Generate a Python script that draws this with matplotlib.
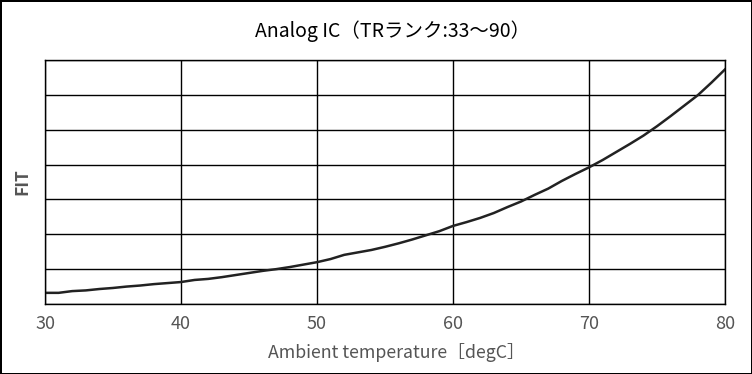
import matplotlib
matplotlib.use("Agg")
import matplotlib.pyplot as plt
import numpy as np

temps = [30, 31, 32, 33, 34, 35, 36, 37, 38, 39, 40, 41, 42, 43, 44, 45, 46, 47, 48, 49,
         50, 51, 52, 53, 54, 55, 56, 57, 58, 59, 60, 61, 62, 63, 64, 65, 66, 67, 68, 69,
         70, 71, 72, 73, 74, 75, 76, 77, 78, 79, 80]
fit = [0.32, 0.32, 0.37, 0.39, 0.43, 0.46, 0.50, 0.53, 0.57, 0.60, 0.63, 0.69, 0.72, 0.77,
       0.83, 0.89, 0.95, 1.00, 1.06, 1.13, 1.20, 1.29, 1.41, 1.48, 1.55, 1.64, 1.74, 1.85,
       1.97, 2.09, 2.24, 2.35, 2.47, 2.61, 2.78, 2.94, 3.13, 3.31, 3.53, 3.73, 3.92, 4.13,
       4.36, 4.59, 4.83, 5.10, 5.39, 5.69, 5.99, 6.35, 6.73]
xticks = [30, 40, 50, 60, 70, 80]
ygrid = [0, 1, 2, 3, 4, 5, 6, 7]

plt.rcParams['font.family'] = ['Noto Sans CJK JP', 'DejaVu Sans']

fig = plt.figure(figsize=(7.52, 3.74), dpi=100)
fig.patch.set_edgecolor('black')
fig.patch.set_linewidth(2)
ax = fig.add_axes([45/752, 70/374, 680/752, 244/374])
ax.plot(temps, fit, color='#222222', lw=1.8)
ax.set_xlim(30, 80)
ax.set_ylim(0, 7)
ax.set_xticks(xticks)
ax.set_yticks(ygrid)
ax.set_yticklabels([])
ax.grid(True, color='black', lw=1)
ax.tick_params(length=0, labelsize=13, labelcolor='#555555', pad=8)
for s in ax.spines.values():
    s.set_color('black')
    s.set_linewidth(1)
ax.set_xlabel('Ambient temperature［degC］', fontsize=12.8, color='#555555')
ax.xaxis.set_label_coords(351/680, -48/244)
ax.xaxis.label.set_va('center')
ax.set_ylabel('FIT', fontsize=12.5, color='#555555', fontweight='bold')
ax.yaxis.set_label_coords(-14/680, 0.5)
fig.text(393/752, 1 - 31/374, 'Analog IC（TRランク:33～90）', ha='center', va='center',
         fontsize=14, color='black')
fig.savefig('out.png', dpi=100, edgecolor=fig.get_edgecolor())
